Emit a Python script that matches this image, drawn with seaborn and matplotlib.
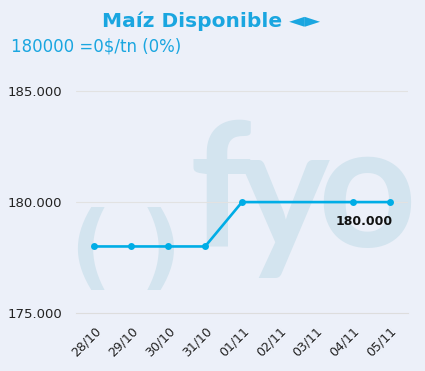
import numpy as np
import pandas as pd
import seaborn as sns
import matplotlib.pyplot as plt

# data
fechas = ["28/10", "29/10", "30/10", "31/10", "01/11", "02/11", "03/11", "04/11", "05/11"]
precios = [178000, 178000, 178000, 178000, 180000, np.nan, np.nan, 180000, 180000]
y_ticks = [175000, 180000, 185000]
y_labels = ["175.000", "180.000", "185.000"]
titulo = "Maíz Disponible \u25c4\u25ba"
subtitulo = "180000 =0$/tn (0%)"
ultimo_label = "180.000"

BG = "#ecf0f9"
AZUL = "#00ade6"
WM = "#d3e4ef"

sns.set_theme(style="white")
plt.rcParams["font.family"] = ["DejaVu Sans"]

W, H = 425, 371
fig = plt.figure(figsize=(W / 100, H / 100), dpi=100, facecolor=BG)


def px(x, y):
    return x / W, 1 - y / H


ax = fig.add_axes([76 / W, 1 - 313 / H, (408 - 76) / W, (313 - 69) / H])
ax.set_facecolor(BG)

# watermark (behind the line, inside the axes)
for ch, x, y, fs, fam in [("f", 220, 247, 124, "Lato"), ("y", 284, 249, 124, "Lato"),
                          ("o", 367, 247, 124, "Lato"),
                          ("(", 90, 278, 66, "DejaVu Sans"), (")", 161, 278, 66, "DejaVu Sans")]:
    ax.text(*px(x, y), ch, transform=fig.transFigure, ha="center", va="baseline",
            fontsize=fs, fontweight="bold", color=WM, family=[fam, "DejaVu Sans"],
            zorder=0, clip_on=False)

df = pd.DataFrame({"pos": range(len(fechas)), "precio": precios}).dropna()
sns.lineplot(data=df, x="pos", y="precio", ax=ax, color=AZUL, linewidth=1.9,
             marker="o", markersize=5, markeredgewidth=0, zorder=3)

ax.set_xlim(-0.5, len(fechas) - 0.5)
ax.set_ylim(175000, 186000)
ax.set_yticks(y_ticks)
ax.set_yticklabels(y_labels, fontsize=9.5, color="#222222")
ax.set_xticks(range(len(fechas)))
ax.set_xticklabels(fechas, rotation=45, ha="right", rotation_mode="anchor",
                   fontsize=9, color="#222222")
ax.set_xticks(np.arange(-0.5, len(fechas)), minor=True)
ax.tick_params(axis="x", which="major", length=0, pad=8)
ax.tick_params(axis="x", which="minor", length=5, color="#dddddd", width=0.8)
ax.tick_params(axis="y", length=0, pad=10)
ax.set_xlabel("")
ax.set_ylabel("")
for s in ["top", "right", "left"]:
    ax.spines[s].set_visible(False)
ax.spines["bottom"].set_color("#dddddd")
ax.spines["bottom"].set_linewidth(0.8)
for v in y_ticks[1:]:
    ax.axhline(v, color="#e2e2e2", linewidth=0.8, zorder=1)

ult = df.iloc[-1]
ax.annotate(ultimo_label, (ult["pos"], ult["precio"]), xytext=(-25, -19),
            textcoords="offset pixels", ha="center", va="center",
            fontsize=9, fontweight="bold", color="#111111", zorder=4)

fig.text(*px(211, 21), titulo, ha="center", va="center", fontsize=14.5,
         fontweight="bold", color="#1aa6e0")
fig.text(*px(11, 47), subtitulo, ha="left", va="center", fontsize=12,
         color="#1aa6e0")

fig.savefig("out.png", dpi=100, facecolor=BG)
